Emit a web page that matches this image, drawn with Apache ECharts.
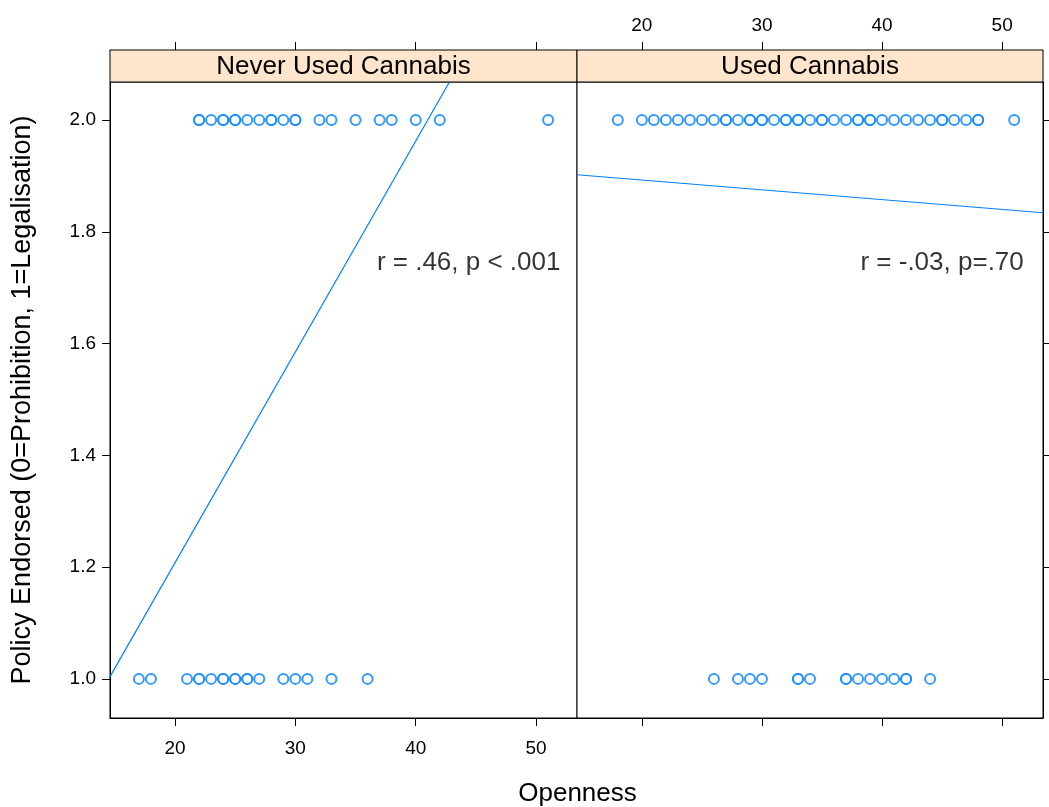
<!DOCTYPE html>
<html><head><meta charset="utf-8">
<script src="https://cdn.jsdelivr.net/npm/echarts@6/dist/echarts.min.js"></script>
<style>html,body{margin:0;padding:0;background:#fff}#c{width:1049px;height:807px}</style>
</head><body><div id="c"></div>
<script>
// ---- data ----
const panels = ['Never Used Cannabis', 'Used Cannabis'];
const neverTop = [22,22,23,24,24,25,25,26,27,28,28,29,30,30,32,33,35,37,38,40,42,51];
const neverBottom = [17,18,21,22,22,23,24,24,25,25,26,26,27,29,30,31,33,36];
const usedTop = [18,20,21,22,23,24,25,26,27,27,28,29,29,30,30,31,32,32,33,33,34,35,35,36,37,38,38,39,39,40,41,42,43,44,45,45,46,47,48,48,51];
const usedBottom = [26,28,29,30,33,33,34,37,37,38,39,40,41,42,42,44];
const neverLine = [[14.6, 1.004], [42.8, 2.068]];
const usedLine = [[14.6, 1.902], [53.4, 1.834]];
const annotations = ['r = .46, p < .001', 'r = -.03, p=.70'];
const annotPos = [[44.4, 1.745], [45.0, 1.745]];
const xTicks = [20, 30, 40, 50];
const yTicks = [1.0, 1.2, 1.4, 1.6, 1.8, 2.0];
const xRange = [14.6, 53.4];
const yRange = [0.93, 2.068];

const BLUE = '#0080ff';
const FONT = 'Liberation Sans, Arial, sans-serif';
const L = 110, M = 577, R = 1043, T = 82, B = 718, STRIP = 32;

const chart = echarts.init(document.getElementById('c'), null, {renderer: 'canvas'});

function pts(arr, y) { return arr.map(v => [v, y]); }

const grids = [
  {left: L, top: T, width: M - L, height: B - T, show: true, borderColor: '#000', borderWidth: 1, backgroundColor: '#fff'},
  {left: M, top: T, width: R - M, height: B - T, show: true, borderColor: '#000', borderWidth: 1, backgroundColor: '#fff'}
];

function xAxis(gi, pos, showLabel, offset, margin) {
  return {
    type: 'value', gridIndex: gi, position: pos, offset: offset || 0,
    min: xRange[0], max: xRange[1],
    axisLine: {show: true, onZero: false, lineStyle: {color: '#000', width: 1}},
    axisTick: {show: true, length: 8, inside: false, customValues: xTicks, lineStyle: {color: '#000'}},
    axisLabel: {show: showLabel, customValues: xTicks, color: '#000', fontSize: 19, fontFamily: FONT, margin: margin},
    splitLine: {show: false}
  };
}
function yAxis(gi, pos, showLabel, extra) {
  return Object.assign({
    type: 'value', gridIndex: gi, position: pos,
    min: yRange[0], max: yRange[1],
    axisLine: {show: true, onZero: false, lineStyle: {color: '#000', width: 1}},
    axisTick: {show: true, length: 8, customValues: yTicks, lineStyle: {color: '#000'}},
    axisLabel: {show: showLabel, customValues: yTicks, color: '#000', fontSize: 19, fontFamily: FONT, margin: 14,
      formatter: v => Number(v).toFixed(1)},
    splitLine: {show: false}
  }, extra || {});
}

const circle = {symbol: 'emptyCircle', symbolSize: 10, itemStyle: {color: BLUE, borderColor: BLUE, borderWidth: 1.2}};

const option = {
  backgroundColor: '#fff',
  animation: false,
  grid: grids,
  xAxis: [
    xAxis(0, 'bottom', true, 0, 21), xAxis(1, 'bottom', false, 0, 21),
    xAxis(0, 'top', false, STRIP, 15), xAxis(1, 'top', true, STRIP, 15)
  ],
  yAxis: [
    yAxis(0, 'left', true, {name: 'Policy Endorsed (0=Prohibition, 1=Legalisation)', nameLocation: 'middle', nameGap: 74,
      nameTextStyle: {fontSize: 27, fontFamily: FONT, color: '#000'}}),
    yAxis(1, 'right', false)
  ],
  graphic: [
    {type: 'rect', shape: {x: L, y: T - STRIP, width: M - L, height: STRIP}, style: {fill: '#ffe5cc', stroke: '#000', lineWidth: 1}, z: 10},
    {type: 'rect', shape: {x: M, y: T - STRIP, width: R - M, height: STRIP}, style: {fill: '#ffe5cc', stroke: '#000', lineWidth: 1}, z: 10},
    {type: 'text', x: (L + M) / 2, y: T - STRIP / 2 + 1, style: {text: panels[0], fill: '#000', font: '26px ' + FONT, textAlign: 'center', textVerticalAlign: 'middle'}, z: 11},
    {type: 'text', x: (M + R) / 2, y: T - STRIP / 2 + 1, style: {text: panels[1], fill: '#000', font: '26px ' + FONT, textAlign: 'center', textVerticalAlign: 'middle'}, z: 11},
    {type: 'text', x: (L + R) / 2 + 1, y: 794, style: {text: 'Openness', fill: '#000', font: '26px ' + FONT, textAlign: 'center', textVerticalAlign: 'middle'}, z: 11}
  ],
  series: [
    Object.assign({type: 'scatter', xAxisIndex: 0, yAxisIndex: 0, data: pts(neverTop, 2).concat(pts(neverBottom, 1))}, circle),
    Object.assign({type: 'scatter', xAxisIndex: 1, yAxisIndex: 1, data: pts(usedTop, 2).concat(pts(usedBottom, 1))}, circle),
    {type: 'line', xAxisIndex: 0, yAxisIndex: 0, data: neverLine, showSymbol: false, symbol: 'none', lineStyle: {color: BLUE, width: 1.2}, clip: true},
    {type: 'line', xAxisIndex: 1, yAxisIndex: 1, data: usedLine, showSymbol: false, symbol: 'none', lineStyle: {color: BLUE, width: 1.2}, clip: true},
    {type: 'scatter', xAxisIndex: 0, yAxisIndex: 0, symbolSize: 0, data: [annotPos[0]], silent: true,
      label: {show: true, position: 'inside', formatter: annotations[0], color: '#000', fontSize: 26, fontFamily: FONT}},
    {type: 'scatter', xAxisIndex: 1, yAxisIndex: 1, symbolSize: 0, data: [annotPos[1]], silent: true,
      label: {show: true, position: 'inside', formatter: annotations[1], color: '#000', fontSize: 26, fontFamily: FONT}}
  ]
};
chart.setOption(option);
</script>
</body></html>
